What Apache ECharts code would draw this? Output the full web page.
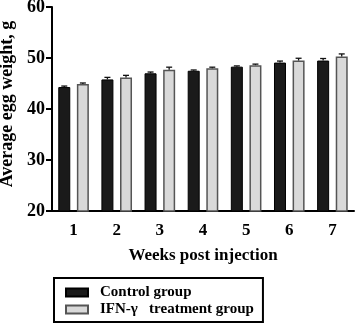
<!DOCTYPE html>
<html>
<head>
<meta charset="UTF-8">
<title>Average egg weight</title>
<script src="https://cdn.jsdelivr.net/npm/echarts@6/dist/echarts.min.js"></script>
<style>
  html, body { margin: 0; padding: 0; background: #fff; }
  #chart { width: 358px; height: 324px; }
</style>
</head>
<body>
<div id="chart"></div>
<script>
  // weeks and group means / SEM
  const weeks = ['1', '2', '3', '4', '5', '6', '7'];
  const controlMean = [44.3, 45.8, 47.0, 47.5, 48.3, 49.1, 49.5];
  const controlErr  = [0.2, 0.4, 0.25, 0.15, 0.15, 0.3, 0.4];
  const ifnMean     = [44.9, 46.2, 47.7, 48.0, 48.6, 49.5, 50.3];
  const ifnErr      = [0.2, 0.4, 0.5, 0.2, 0.2, 0.45, 0.5];
  const yTicks = [20, 30, 40, 50, 60];

  const FONT = '"Liberation Serif", "DejaVu Serif", serif';
  const BAR_W = 12;
  const BAR_GAP = 0.55; // fraction of bar width
  const halfOffset = (BAR_W + BAR_W * BAR_GAP) / 2;

  function errSeries(means, errs, side) {
    return {
      type: 'custom',
      name: 'err' + side,
      z: 5,
      silent: true,
      data: means.map((m, i) => [i, m, errs[i]]),
      renderItem: function (params, api) {
        const top = api.coord([api.value(0), api.value(1) + api.value(2)]);
        const base = api.coord([api.value(0), api.value(1)]);
        const x = top[0] + side * halfOffset;
        const cap = 3;
        return {
          type: 'group',
          children: [
            { type: 'line', shape: { x1: x, y1: base[1], x2: x, y2: top[1] },
              style: { stroke: '#111', lineWidth: 1.3 } },
            { type: 'line', shape: { x1: x - cap, y1: top[1], x2: x + cap, y2: top[1] },
              style: { stroke: '#111', lineWidth: 1.3 } }
          ]
        };
      }
    };
  }

  const chart = echarts.init(document.getElementById('chart'));
  chart.setOption({
    animation: false,
    grid: { left: 52, right: 4, top: 7, bottom: 113, containLabel: false, outerBoundsMode: 'none' },
    legend: {
      data: ['Control group', 'IFN-γ   treatment group'],
      orient: 'vertical',
      left: 54,
      top: 278,
      icon: 'rect',
      itemWidth: 22,
      itemHeight: 8,
      itemGap: 0,
      padding: [6, 9, 4, 11],
      borderColor: '#000',
      borderWidth: 2,
      textStyle: { fontFamily: FONT, fontWeight: 'bold', fontSize: 15, color: '#000',
                   lineHeight: 17, padding: [0, 0, 0, 7] }
    },
    xAxis: {
      type: 'category',
      data: weeks,
      name: 'Weeks post injection',
      nameLocation: 'middle',
      nameGap: 36,
      nameTextStyle: { fontFamily: FONT, fontWeight: 'bold', fontSize: 17, color: '#000',
                       verticalAlign: 'top' },
      axisLine: { lineStyle: { color: '#000', width: 2 } },
      axisTick: { alignWithLabel: true, length: 5, lineStyle: { color: '#000', width: 2 } },
      axisLabel: { fontFamily: FONT, fontWeight: 'bold', fontSize: 17, color: '#000', margin: 11 }
    },
    yAxis: {
      type: 'value',
      min: yTicks[0],
      max: yTicks[yTicks.length - 1],
      interval: 10,
      name: 'Average egg weight, g',
      nameLocation: 'middle',
      nameGap: 28,
      nameTextStyle: { fontFamily: FONT, fontWeight: 'bold', fontSize: 18, color: '#000',
                       padding: [0, 0, 0, 10] },
      splitLine: { show: false },
      axisLine: { show: true, lineStyle: { color: '#000', width: 2 } },
      axisTick: { show: true, length: 6, lineStyle: { color: '#000', width: 2 } },
      axisLabel: { fontFamily: FONT, fontWeight: 'bold', fontSize: 18, color: '#000', margin: 7 }
    },
    series: [
      {
        name: 'Control group',
        type: 'bar',
        barWidth: BAR_W,
        barGap: (BAR_GAP * 100) + '%',
        data: controlMean,
        itemStyle: { color: '#1a1a1a', borderColor: '#000', borderWidth: 1 }
      },
      {
        name: 'IFN-γ   treatment group',
        type: 'bar',
        barWidth: BAR_W,
        data: ifnMean,
        itemStyle: { color: '#d9d9d9', borderColor: '#555', borderWidth: 1.5 }
      },
      errSeries(controlMean, controlErr, -1),
      errSeries(ifnMean, ifnErr, 1)
    ]
  });
</script>
</body>
</html>
